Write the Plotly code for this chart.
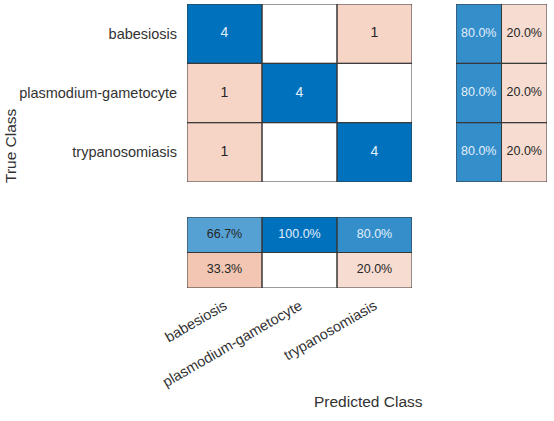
import plotly.graph_objects as go

classes = ["babesiosis", "plasmodium-gametocyte", "trypanosomiasis"]
counts = [
    [4, 0, 1],
    [1, 4, 0],
    [1, 0, 4],
]
x_title = "Predicted Class"
y_title = "True Class"

n = len(classes)
row_tot = [sum(r) for r in counts]
col_tot = [sum(counts[i][j] for i in range(n)) for j in range(n)]
recall = [100.0 * counts[i][i] / row_tot[i] for i in range(n)]
fnr = [100.0 - v for v in recall]
precision = [100.0 * counts[j][j] / col_tot[j] for j in range(n)]
fdr = [100.0 - v for v in precision]

BLUE = (0, 114, 189)
ORANGE = (217, 83, 25)
DARK_TXT = "rgb(38,38,38)"
LIGHT_TXT = "rgb(228,238,250)"
BORDER = "rgb(55,55,55)"


def mix(c, f):
    return tuple(255 - f * (255 - v) for v in c)


def css(c):
    return "rgb(%d,%d,%d)" % tuple(round(v) for v in c)


def txt_color(c):
    lum = 0.299 * c[0] + 0.587 * c[1] + 0.114 * c[2]
    return LIGHT_TXT if lum < 135 else DARK_TXT


def scale(c):
    return [[0, "rgb(255,255,255)"], [1, css(c)]]


W, H = 554, 421
def px_x(v):
    return v / W
def px_y(v):
    return 1 - v / H

fig = go.Figure()
shapes = []

# ---------- main matrix ----------
cmax = max(max(r) for r in counts)
zd = [[counts[i][j] if i == j and counts[i][j] > 0 else None for j in range(n)] for i in range(n)]
zo = [[counts[i][j] if i != j and counts[i][j] > 0 else None for j in range(n)] for i in range(n)]
fig.add_trace(go.Heatmap(z=zd, x=list(range(n)), y=list(range(n)), zmin=0, zmax=cmax,
                         colorscale=scale(BLUE), showscale=False, hoverinfo="skip",
                         xaxis="x", yaxis="y"))
fig.add_trace(go.Heatmap(z=zo, x=list(range(n)), y=list(range(n)), zmin=0, zmax=cmax,
                         colorscale=scale(ORANGE), showscale=False, hoverinfo="skip",
                         xaxis="x", yaxis="y"))
tx, ty, tt, tc = [], [], [], []
for i in range(n):
    for j in range(n):
        v = counts[i][j]
        if v > 0:
            col = mix(BLUE if i == j else ORANGE, v / cmax)
            tx.append(j); ty.append(i); tt.append(str(v)); tc.append(txt_color(col))
        shapes.append(dict(type="rect", xref="x", yref="y", x0=j - 0.5, x1=j + 0.5,
                           y0=i - 0.5, y1=i + 0.5, line=dict(color=BORDER, width=1)))
fig.add_trace(go.Scatter(x=tx, y=ty, text=tt, mode="text", textfont=dict(size=14, color=tc),
                         hoverinfo="skip", xaxis="x", yaxis="y", showlegend=False))

# ---------- right summary (row normalized) ----------
zr_b = [[recall[i], None] for i in range(n)]
zr_o = [[None, fnr[i] if fnr[i] > 0 else None] for i in range(n)]
fig.add_trace(go.Heatmap(z=zr_b, x=[0, 1], y=list(range(n)), zmin=0, zmax=100,
                         colorscale=scale(BLUE), showscale=False, hoverinfo="skip",
                         xaxis="x2", yaxis="y2"))
fig.add_trace(go.Heatmap(z=zr_o, x=[0, 1], y=list(range(n)), zmin=0, zmax=100,
                         colorscale=scale(ORANGE), showscale=False, hoverinfo="skip",
                         xaxis="x2", yaxis="y2"))
tx, ty, tt, tc = [], [], [], []
for i in range(n):
    for j, (v, base) in enumerate([(recall[i], BLUE), (fnr[i], ORANGE)]):
        if v > 0:
            tx.append(j); ty.append(i); tt.append("%.1f%%" % v)
            tc.append(txt_color(mix(base, v / 100)))
        shapes.append(dict(type="rect", xref="x2", yref="y2", x0=j - 0.5, x1=j + 0.5,
                           y0=i - 0.5, y1=i + 0.5, line=dict(color=BORDER, width=1)))
fig.add_trace(go.Scatter(x=tx, y=ty, text=tt, mode="text", textfont=dict(size=12.5, color=tc),
                         hoverinfo="skip", xaxis="x2", yaxis="y2", showlegend=False))

# ---------- bottom summary (column normalized) ----------
zb_b = [precision, [None] * n]
zb_o = [[None] * n, [v if v > 0 else None for v in fdr]]
fig.add_trace(go.Heatmap(z=zb_b, x=list(range(n)), y=[0, 1], zmin=0, zmax=100,
                         colorscale=scale(BLUE), showscale=False, hoverinfo="skip",
                         xaxis="x3", yaxis="y3"))
fig.add_trace(go.Heatmap(z=zb_o, x=list(range(n)), y=[0, 1], zmin=0, zmax=100,
                         colorscale=scale(ORANGE), showscale=False, hoverinfo="skip",
                         xaxis="x3", yaxis="y3"))
tx, ty, tt, tc = [], [], [], []
for j in range(n):
    for i, (v, base) in enumerate([(precision[j], BLUE), (fdr[j], ORANGE)]):
        if v > 0:
            tx.append(j); ty.append(i); tt.append("%.1f%%" % v)
            tc.append(txt_color(mix(base, v / 100)))
        shapes.append(dict(type="rect", xref="x3", yref="y3", x0=j - 0.5, x1=j + 0.5,
                           y0=i - 0.5, y1=i + 0.5, line=dict(color=BORDER, width=1)))
fig.add_trace(go.Scatter(x=tx, y=ty, text=tt, mode="text", textfont=dict(size=12.5, color=tc),
                         hoverinfo="skip", xaxis="x3", yaxis="y3", showlegend=False))

# ---------- layout ----------
axis_common = dict(showgrid=False, zeroline=False, showline=False, fixedrange=True, automargin=False)
main_x = [px_x(187), px_x(412)]
main_y = [px_y(182), px_y(4)]
font_tick = dict(family="Liberation Sans, Arial, sans-serif", size=14.5, color="rgb(50,50,50)")

fig.update_layout(
    width=W, height=H,
    margin=dict(l=0, r=0, t=0, b=0),
    paper_bgcolor="white", plot_bgcolor="white",
    showlegend=False,
    font=dict(family="Liberation Sans, Arial, sans-serif", color="rgb(38,38,38)"),
    xaxis=dict(domain=main_x, range=[-0.5, n - 0.5], showticklabels=False, anchor="y", **axis_common),
    yaxis=dict(domain=main_y, range=[n - 0.5, -0.5], tickvals=list(range(n)), ticktext=classes,
               ticks="outside", ticklen=6, tickcolor="rgba(0,0,0,0)", tickfont=font_tick,
               anchor="x", **axis_common),
    xaxis2=dict(domain=[px_x(456), px_x(547)], range=[-0.5, 1.5], showticklabels=False,
                anchor="y2", **axis_common),
    yaxis2=dict(domain=main_y, range=[n - 0.5, -0.5], showticklabels=False, anchor="x2", **axis_common),
    xaxis3=dict(domain=main_x, range=[-0.5, n - 0.5], tickvals=list(range(n)), ticktext=classes,
                tickangle=-30, ticks="outside", ticklen=3, tickcolor="rgba(0,0,0,0)",
                tickfont=font_tick, anchor="y3", **axis_common),
    yaxis3=dict(domain=[px_y(288), px_y(217)], range=[1.5, -0.5], showticklabels=False,
                anchor="x3", **axis_common),
    shapes=shapes,
    annotations=[
        dict(text=x_title, x=px_x(368), y=px_y(401), xref="paper", yref="paper",
             showarrow=False, font=dict(size=15.5, color="rgb(50,50,50)"),
             xanchor="center", yanchor="middle"),
        dict(text=y_title, x=px_x(10), y=px_y(146), xref="paper", yref="paper",
             showarrow=False, textangle=-90, font=dict(size=15.5, color="rgb(50,50,50)"),
             xanchor="center", yanchor="middle"),
    ],
)

fig.write_html("out.html", config={"displayModeBar": False},
               post_script="document.body.style.margin='0';")
